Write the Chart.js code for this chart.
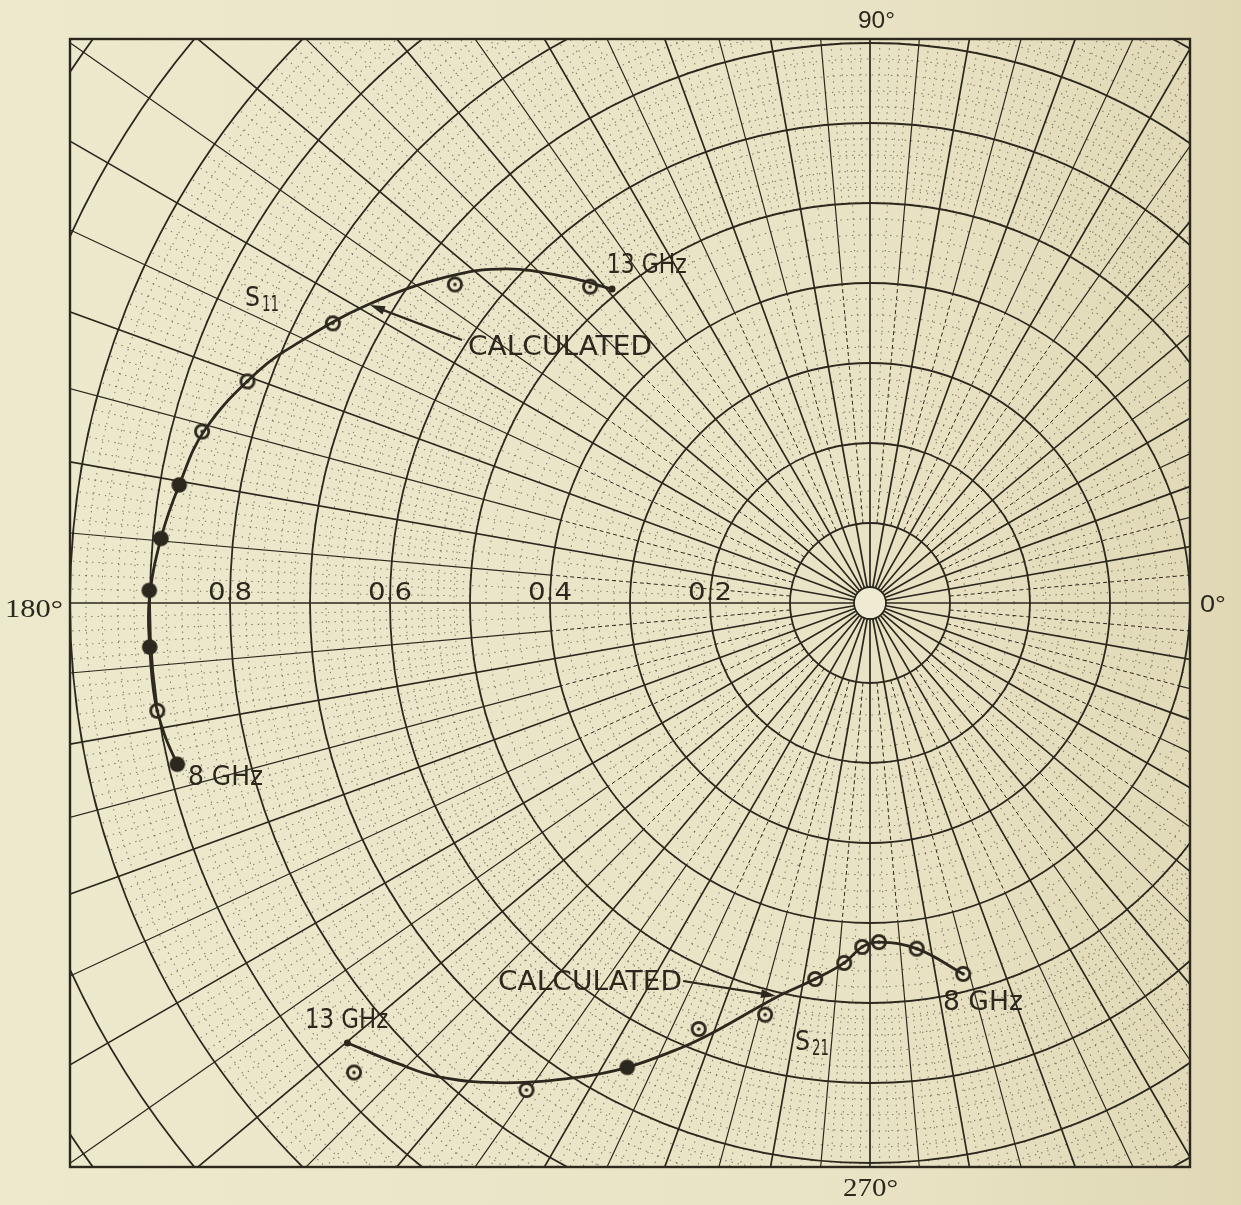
<!DOCTYPE html>
<html>
<head>
<meta charset="utf-8">
<title>S11 / S21 polar plot</title>
<script src="https://cdn.jsdelivr.net/npm/chart.js@4.4.1/dist/chart.umd.min.js"></script>
<style>
    html, body { margin: 0; padding: 0; background: #ece7ca; }
    canvas { display: block; }
</style>
</head>
<body>
<canvas id="polarChart" width="1241" height="1205"></canvas>
<script>
// S11 measured, 8 -> 13 GHz in 0.5 GHz steps (magnitude, angle in degrees)
const s11MeasMag = [0.889, 0.901, 0.902, 0.901, 0.890, 0.876, 0.862, 0.826, 0.757, 0.654, 0.528];
const s11MeasAng = [193.1, 188.6, 183.5, 179.0, 174.8, 170.3, 165.6, 160.4, 152.5, 142.5, 131.5];
const s11Filled  = [true, false, true, true, true, true, false, false, false, false, false];

// S11 calculated curve
const s11CalcMag = [0.889, 0.897, 0.902, 0.902, 0.901, 0.890, 0.876, 0.859, 0.819, 0.784, 0.731, 0.668, 0.617, 0.556, 0.508];
const s11CalcAng = [193.1, 190.6, 187.7, 183.5, 179.8, 174.8, 170.3, 165.4, 159.4, 155.4, 149.4, 142.4, 137.4, 132.9, 129.4];

// S21 measured, 8 -> 13 GHz
const s21MeasMag = [0.478, 0.436, 0.424, 0.430, 0.451, 0.475, 0.531, 0.574, 0.655, 0.745, 0.872];
const s21MeasAng = [284.1, 277.7, 271.5, 268.7, 265.9, 261.7, 255.7, 248.1, 242.4, 234.8, 222.3];
const s21Filled  = [false, false, false, false, false, false, false, false, true, false, false];

// S21 calculated curve
const s21CalcMag = [0.478, 0.436, 0.424, 0.430, 0.451, 0.475, 0.506, 0.572, 0.605, 0.655, 0.695, 0.753, 0.800, 0.825, 0.854];
const s21CalcAng = [284.1, 277.7, 271.5, 268.7, 265.9, 261.7, 256.7, 249.9, 246.9, 242.4, 238.5, 232.8, 227.8, 224.2, 220.1];

// radius labels along the 180 deg line, and the angle labels round the frame
const radialTicks = [0.2, 0.4, 0.6, 0.8];
const angleLabels = ['0°', '90°', '180°', '270°'];

const INK = '#2c281e';
const PAPER = '#ece7ca';

// text notes, in data units (x, y = left/baseline; w = width)
const notes = [
    { text: '13 GHz',     x: -0.329,  y: 0.4125,   w: 0.100 },
    { text: 'CALCULATED', x: -0.5025, y: 0.310,    w: 0.230 },
    { text: '8 GHz',      x: -0.8525, y: -0.2275,  w: 0.094 },
    { text: '13 GHz',     x: -0.7062, y: -0.5312,  w: 0.104 },
    { text: 'CALCULATED', x: -0.465,  y: -0.4837,  w: 0.230 },
    { text: '8 GHz',      x: 0.0912,  y: -0.5087,  w: 0.100 }
];
const subNotes = [
    { main: 'S', sub: '11', x: -0.7812, y: 0.3712 },
    { main: 'S', sub: '21', x: -0.0937, y: -0.5587 }
];
const arrows = [
    { x0: -0.510,  y0: 0.3287,  x1: -0.625,  y1: 0.3725 },
    { x0: -0.2337, y0: -0.4725, x1: -0.1175, y1: -0.4912 }
];

function toXY(mags, angs) {
    return mags.map((m, i) => {
        const a = angs[i] * Math.PI / 180;
        return { x: m * Math.cos(a), y: m * Math.sin(a) };
    });
}

// point markers: open circle with a centre dot, or a solid dot
function makeMarker(filled) {
    const c = document.createElement('canvas');
    c.width = 20; c.height = 20;
    const g = c.getContext('2d');
    g.beginPath();
    g.arc(10, 10, filled ? 7.8 : 6.6, 0, Math.PI * 2);
    if (filled) {
        g.fillStyle = INK;
        g.fill();
    } else {
        g.fillStyle = PAPER;
        g.fill();
        g.lineWidth = 2.8;
        g.strokeStyle = INK;
        g.stroke();
        g.beginPath();
        g.arc(10, 10, 1.8, 0, Math.PI * 2);
        g.fillStyle = INK;
        g.fill();
    }
    return c;
}
const openMarker = makeMarker(false);
const filledMarker = makeMarker(true);

function drawFitted(ctx, text, x, y, w) {
    const m = ctx.measureText(text).width;
    ctx.save();
    ctx.translate(x, y);
    ctx.scale(w / m, 1);
    ctx.fillText(text, 0, 0);
    ctx.restore();
}

// Polar paper grid
const polarGrid = {
    id: 'polarGrid',
    beforeDraw(chart) {
        const ctx = chart.ctx;
        const g = ctx.createLinearGradient(0, 0, chart.width, 0);
        g.addColorStop(0, '#ede9cd');
        g.addColorStop(0.7, '#e9e3c5');
        g.addColorStop(1, '#e0d8b5');
        ctx.save();
        ctx.fillStyle = g;
        ctx.fillRect(0, 0, chart.width, chart.height);
        ctx.restore();
    },
    beforeDatasetsDraw(chart) {
        const { ctx, chartArea: area, scales: { x, y } } = chart;
        const cx = x.getPixelForValue(0);
        const cy = y.getPixelForValue(0);
        const R = x.getPixelForValue(1) - cx;
        const rMax = 1.25;

        ctx.save();
        ctx.beginPath();
        ctx.rect(area.left, area.top, area.right - area.left, area.bottom - area.top);
        ctx.clip();

        const ray = (deg, r0, r1) => {
            const a = deg * Math.PI / 180;
            ctx.moveTo(cx + r0 * R * Math.cos(a), cy - r0 * R * Math.sin(a));
            ctx.lineTo(cx + r1 * R * Math.cos(a), cy - r1 * R * Math.sin(a));
        };

        // dotted rings every 0.02
        ctx.strokeStyle = 'rgba(44,40,30,0.55)';
        ctx.lineWidth = 1.1;
        ctx.setLineDash([1.4, 5]);
        for (let k = 6; k < 50; k++) {
            if (k % 5 === 0) continue;
            ctx.beginPath();
            ctx.arc(cx, cy, k * 0.02 * R, 0, Math.PI * 2);
            ctx.stroke();
        }
        // dotted rays
        ctx.beginPath();
        for (let d = 0; d < 360; d += 2.5) {
            if (d % 5 === 0) continue;
            ray(d, 0.2, 0.5);
        }
        for (let d = 0; d < 360; d++) {
            if (d % 5 === 0) continue;
            ray(d, 0.5, 1.0);
        }
        ctx.stroke();

        // 5 degree rays: dashed near the centre, solid further out
        ctx.strokeStyle = INK;
        ctx.lineWidth = 1;
        ctx.setLineDash([4, 3]);
        ctx.beginPath();
        for (let d = 5; d < 360; d += 10) ray(d, 0.1, 0.4);
        ctx.stroke();
        ctx.setLineDash([]);
        ctx.lineWidth = 1.2;
        ctx.beginPath();
        for (let d = 5; d < 360; d += 10) ray(d, 0.4, rMax);
        ctx.stroke();

        // 10 degree rays
        ctx.lineWidth = 1.7;
        ctx.beginPath();
        for (let d = 0; d < 360; d += 10) ray(d, 0.02, rMax);
        ctx.stroke();

        // solid rings every 0.1
        ctx.lineWidth = 1.8;
        for (let k = 1; k <= rMax * 10; k++) {
            ctx.beginPath();
            ctx.arc(cx, cy, k * 0.1 * R, 0, Math.PI * 2);
            ctx.stroke();
        }

        // centre hole
        ctx.beginPath();
        ctx.arc(cx, cy, 0.02 * R, 0, Math.PI * 2);
        ctx.fillStyle = '#efebd2';
        ctx.fill();
        ctx.lineWidth = 1.8;
        ctx.stroke();
        ctx.restore();

        // frame
        ctx.save();
        ctx.strokeStyle = INK;
        ctx.lineWidth = 2.4;
        ctx.strokeRect(area.left, area.top, area.right - area.left, area.bottom - area.top);

        // radius labels on the 180 deg line
        ctx.fillStyle = INK;
        ctx.font = '25px "DejaVu Sans"';
        ctx.textBaseline = 'alphabetic';
        radialTicks.forEach(t => {
            const px = cx - t * R;
            drawFitted(ctx, t.toFixed(1), px - 22, cy - 3, 44);
        });

        // angle labels
        ctx.font = '24px "Liberation Sans"';
        drawFitted(ctx, angleLabels[1], cx - 12, area.top - 11, 37);
        drawFitted(ctx, angleLabels[0], area.right + 10, cy + 9, 26);
        ctx.font = '25px "Liberation Serif"';
        drawFitted(ctx, angleLabels[3], cx - 27, area.bottom + 29, 55);
        drawFitted(ctx, angleLabels[2], area.left - 65, cy + 14, 58);
        ctx.restore();
    },
    afterDatasetsDraw(chart) {
        const { ctx, scales: { x, y } } = chart;
        ctx.save();
        ctx.fillStyle = INK;
        ctx.strokeStyle = INK;
        ctx.textAlign = 'left';
        ctx.textBaseline = 'alphabetic';

        ctx.font = '26px "DejaVu Sans"';
        notes.forEach(n => {
            const w = x.getPixelForValue(n.x + n.w) - x.getPixelForValue(n.x);
            drawFitted(ctx, n.text, x.getPixelForValue(n.x), y.getPixelForValue(n.y), w);
        });

        subNotes.forEach(n => {
            const px = x.getPixelForValue(n.x);
            const py = y.getPixelForValue(n.y);
            ctx.font = '27px "DejaVu Sans"';
            drawFitted(ctx, n.main, px, py, 15);
            ctx.font = '21px "DejaVu Sans"';
            drawFitted(ctx, n.sub, px + 17, py + 5, 17);
        });

        arrows.forEach(a => {
            const x0 = x.getPixelForValue(a.x0), y0 = y.getPixelForValue(a.y0);
            const x1 = x.getPixelForValue(a.x1), y1 = y.getPixelForValue(a.y1);
            const ang = Math.atan2(y1 - y0, x1 - x0);
            ctx.lineWidth = 2.2;
            ctx.beginPath();
            ctx.moveTo(x0, y0);
            ctx.lineTo(x1 - 8 * Math.cos(ang), y1 - 8 * Math.sin(ang));
            ctx.stroke();
            ctx.beginPath();
            ctx.moveTo(x1, y1);
            ctx.lineTo(x1 - 15 * Math.cos(ang) + 4.5 * Math.sin(ang), y1 - 15 * Math.sin(ang) - 4.5 * Math.cos(ang));
            ctx.lineTo(x1 - 15 * Math.cos(ang) - 4.5 * Math.sin(ang), y1 - 15 * Math.sin(ang) + 4.5 * Math.cos(ang));
            ctx.closePath();
            ctx.fill();
        });
        ctx.restore();
    }
};

function buildChart() {
    const ctx = document.getElementById('polarChart').getContext('2d');
    const calcStyle = {
        showLine: true,
        borderColor: INK,
        borderWidth: 2.8,
        tension: 0.4,
        backgroundColor: INK,
        pointBorderWidth: 0,
        pointRadius: c => (c.dataIndex === c.dataset.data.length - 1 ? 3.5 : 0)
    };

    new Chart(ctx, {
        type: 'scatter',
        data: {
            datasets: [
                Object.assign({ label: 'S11 calculated', data: toXY(s11CalcMag, s11CalcAng) }, calcStyle),
                Object.assign({ label: 'S21 calculated', data: toXY(s21CalcMag, s21CalcAng) }, calcStyle),
                {
                    label: 'S11 measured',
                    data: toXY(s11MeasMag, s11MeasAng),
                    pointStyle: c => (s11Filled[c.dataIndex] ? filledMarker : openMarker)
                },
                {
                    label: 'S21 measured',
                    data: toXY(s21MeasMag, s21MeasAng),
                    pointStyle: c => (s21Filled[c.dataIndex] ? filledMarker : openMarker)
                }
            ]
        },
        options: {
            responsive: false,
            animation: false,
            devicePixelRatio: 1,
            layout: { padding: { left: 70, right: 51, top: 39, bottom: 38 } },
            plugins: { legend: { display: false }, tooltip: { enabled: false } },
            scales: {
                x: { type: 'linear', display: false, min: -1.0, max: 0.4 },
                y: { type: 'linear', display: false, min: -0.705, max: 0.705 }
            }
        },
        plugins: [polarGrid]
    });
}

buildChart();
</script>
</body>
</html>
